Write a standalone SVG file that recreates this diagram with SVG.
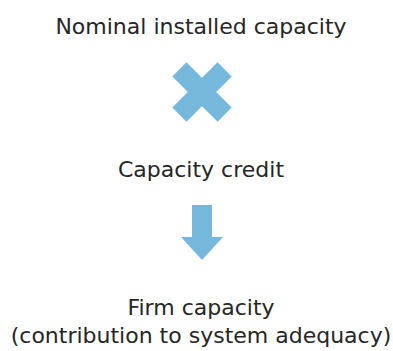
<svg xmlns="http://www.w3.org/2000/svg" width="393" height="351" viewBox="0 0 393 351">
<style>
  text { font-family: "DejaVu Sans", "Liberation Sans", sans-serif; font-size: 22px; fill: #262626; text-anchor: middle; }
  .sym { fill: #75b8dc; }
</style>
<rect width="393" height="351" fill="#ffffff"/>
<g id="nominal"><text x="201" y="34">Nominal installed capacity</text></g>
<g id="credit"><text x="201" y="177">Capacity credit</text></g>
<g id="firm"><text x="201" y="315">Firm capacity</text><text x="201" y="343">(contribution to system adequacy)</text></g>
<g id="connectors">
  <g class="sym" transform="translate(202,92) rotate(45)">
    <rect x="-32" y="-10" width="64" height="20"/>
    <rect x="-10" y="-32" width="20" height="64"/>
  </g>
  <polygon class="sym" points="192,205 212,205 212,237 223,237 202,260 181,237 192,237"/>
</g>
</svg>
